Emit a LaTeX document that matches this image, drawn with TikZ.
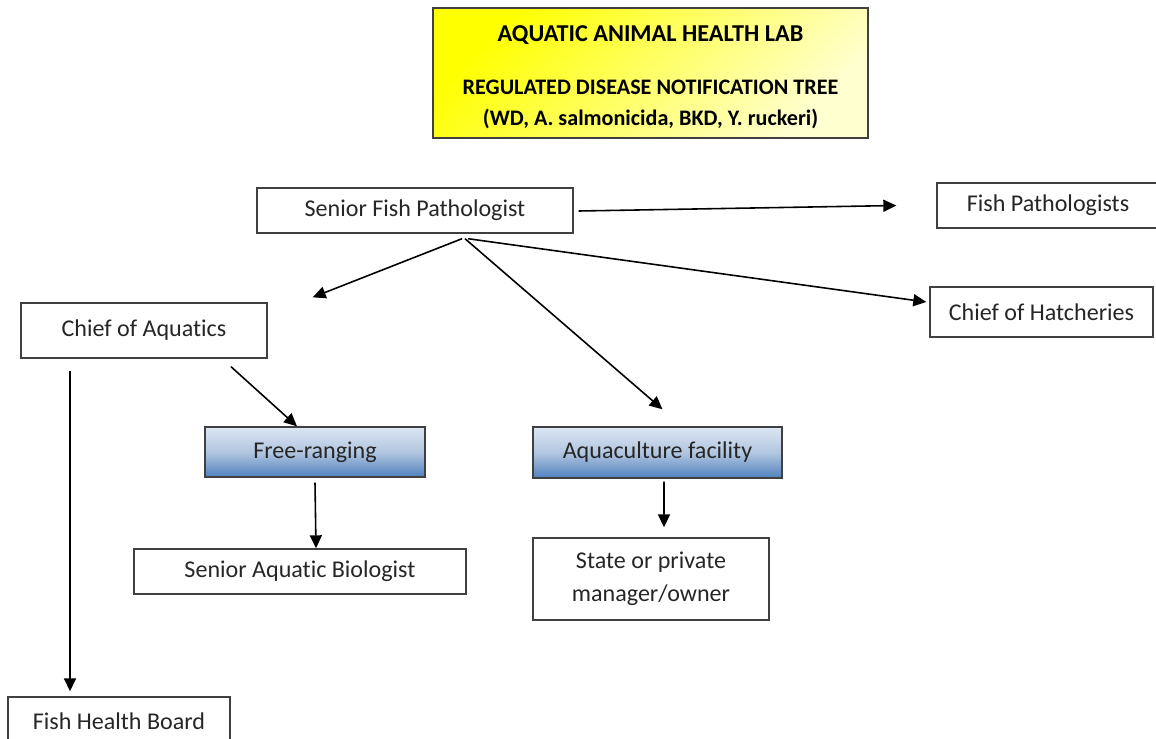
\documentclass[tikz,border=0pt]{standalone}
\usepackage{fontspec}
\setmainfont{Carlito}[Ligatures=CommonOff]
\usepackage{tikz}
\usetikzlibrary{positioning,calc,arrows.meta}
\definecolor{boxline}{HTML}{404040}
\definecolor{labeltext}{HTML}{262626}
\definecolor{titletop}{HTML}{FFFF00}
\definecolor{titlebot}{HTML}{FFFFD0}
\definecolor{bluetop}{HTML}{DCE6F2}
\definecolor{bluemid}{HTML}{B2C6E0}
\definecolor{bluebot}{HTML}{4F81BD}

\begin{document}
\begin{tikzpicture}[x=0.02cm, y=-0.02cm, >={Triangle[length=2.6mm, width=2.4mm]},
  plainbox/.style={draw=boxline, line width=0.8pt, fill=white, text=labeltext, align=center,
    font=\fontsize{13.7}{18.5}\selectfont, inner sep=0pt},
  bluebox/.style={plainbox, top color=bluetop, bottom color=bluebot, middle color=bluemid},
  titlebox/.style={plainbox, top color=titletop, bottom color=titlebot, shading angle=45,
    font=\fontsize{12.6}{17.4}\selectfont\bfseries, text=black},
  link/.style={->, line width=0.9pt, black}]
  \useasboundingbox (0,0) rectangle (1156,738);

  % Heading
  \node[titlebox, minimum width=8.7cm, minimum height=2.6cm] (title) at (650.5, 73)
    {\rule{0pt}{14pt}{\fontsize{13.8}{17.4}\selectfont AQUATIC ANIMAL HEALTH LAB}\\[4.5mm] REGULATED DISEASE NOTIFICATION TREE\\ (WD, A. salmonicida, BKD, Y. ruckeri)};

  % First level
  \node[plainbox, minimum width=6.32cm, minimum height=0.9cm] (spf) at (415, 210.5) {Senior Fish Pathologist};
  \node[plainbox, minimum width=4.44cm, minimum height=0.9cm] (fp) at (1048, 205.5) {Fish Pathologists};
  \node[plainbox, minimum width=4.46cm, minimum height=1.0cm] (coh) at (1041.5, 312) {Chief of Hatcheries};
  \node[plainbox, minimum width=4.92cm, minimum height=1.1cm] (coa) at (144, 330.5) {Chief of Aquatics};

  % Sites
  \node[bluebox, minimum width=4.4cm, minimum height=1.0cm] (fr) at (315, 452) {Free-ranging};
  \node[bluebox, minimum width=4.98cm, minimum height=1.02cm] (af) at (657.5, 452.5) {Aquaculture facility};

  \draw[link] ($(spf.east)+(5,0.5)$) -- ($(fp.west)+(-40,0)$);
  \draw[link] ($(spf.south)+(47,5)$) -- ($(coa.north east)+(45,-5)$);
  \draw[link] ($(spf.south)+(50,5)$) -- ($(af.north)+(5,-17)$);
  \draw[link] ($(spf.south)+(53,5)$) -- ($(coh.west)+(-3,-10)$);
  \draw[link] ($(coa.south)+(87,8)$) -- ($(fr.north)+(-18,0)$);

  % Contacts
  \node[plainbox, minimum width=6.64cm, minimum height=0.9cm] (sab) at (300, 571.5) {Senior Aquatic Biologist};
  \node[plainbox, minimum width=4.72cm, minimum height=1.64cm] (spm) at (651, 579) {State or private\\manager/owner};
  \node[plainbox, minimum width=4.44cm, minimum height=0.96cm] (fhb) at (119, 721) {Fish Health Board};

  \draw[link] ($(fr.south)+(0,5)$) -- ($(sab.north)+(16,0)$);
  \draw[link] ($(af.south)+(6.5,3)$) -- ($(spm.north)+(13,-10)$);
  \draw[link] ($(coa.south)+(-74,12)$) -- ($(fhb.north)+(-49,-5)$);
\end{tikzpicture}
\end{document}
